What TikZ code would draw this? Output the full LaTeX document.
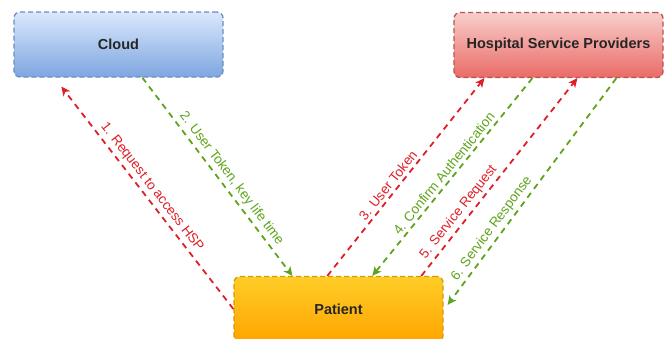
\documentclass[tikz,border=0pt]{standalone}
\usepackage{fontspec}
\setmainfont{Liberation Sans}
\usetikzlibrary{arrows.meta,calc}
\definecolor{cloudtop}{HTML}{DAE8FC}
\definecolor{cloudbot}{HTML}{7EA6E0}
\definecolor{cloudline}{HTML}{6C8EBF}
\definecolor{hsptop}{HTML}{F8CECC}
\definecolor{hspbot}{HTML}{EA6B66}
\definecolor{hspline}{HTML}{B85450}
\definecolor{pattop}{HTML}{FFCD28}
\definecolor{patbot}{HTML}{FFA500}
\definecolor{patline}{HTML}{D79B00}
\definecolor{myred}{HTML}{DD1F26}
\definecolor{mygreen}{HTML}{5EA31B}
\begin{document}
\begin{tikzpicture}[x=1pt,y=-1pt,
  box/.style={draw, dash pattern=on 5pt off 3pt, line width=1.3pt, rounded corners=6pt,
    minimum width=209pt, minimum height=65pt, inner sep=0pt,
    font=\fontsize{14.5}{17}\selectfont\bfseries, text=black!85},
  flow/.style={line width=1.8pt, dash pattern=on 6pt off 5pt,
    -{Stealth[length=9pt,width=8.5pt,inset=2.5pt]}},
  redflow/.style={flow, draw=myred},
  greenflow/.style={flow, draw=mygreen},
  lbl/.style={sloped, above, inner sep=3pt, font=\fontsize{13.5}{16}\selectfont},
]
\clip (0,0) rectangle (668,338);
\node[box, draw=cloudline, top color=cloudtop, bottom color=cloudbot] (cloud) at (118.5,44.5) {Cloud};
\node[box, draw=hspline, top color=hsptop, bottom color=hspbot] (hsp) at (558.5,45) {Hospital Service Providers};
\node[box, draw=patline, top color=pattop, bottom color=patbot] (patient) at (338.5,309) {Patient};

\draw[redflow] (patient.west) -- ($(cloud.south west)+(48,9)$)
  node[lbl, pos=0.52, text=myred] {1. Request to access HSP};
\draw[greenflow] ($(cloud.south west)+(129,0)$) -- ($(patient.north west)+(59,0)$)
  node[lbl, pos=0.54, text=mygreen] {2. User Token, key life time};
\draw[redflow] ($(patient.north west)+(94,0)$) -- ($(hsp.south west)+(31,0)$)
  node[lbl, pos=0.43, text=myred] {3. User Token};
\draw[greenflow] ($(hsp.south west)+(79,0)$) -- ($(patient.north west)+(139,0)$)
  node[lbl, pos=0.51, text=mygreen] {4. Confirm Authentication};
\draw[redflow] ($(patient.north west)+(188,0)$) -- ($(hsp.south west)+(124,0)$)
  node[lbl, pos=0.29, text=myred] {5. Service Request};
\draw[greenflow] ($(hsp.south west)+(163,0)$) -- ($(patient.north east)+(4,29)$)
  node[lbl, pos=0.69, text=mygreen] {6. Service Response};
\end{tikzpicture}
\end{document}
